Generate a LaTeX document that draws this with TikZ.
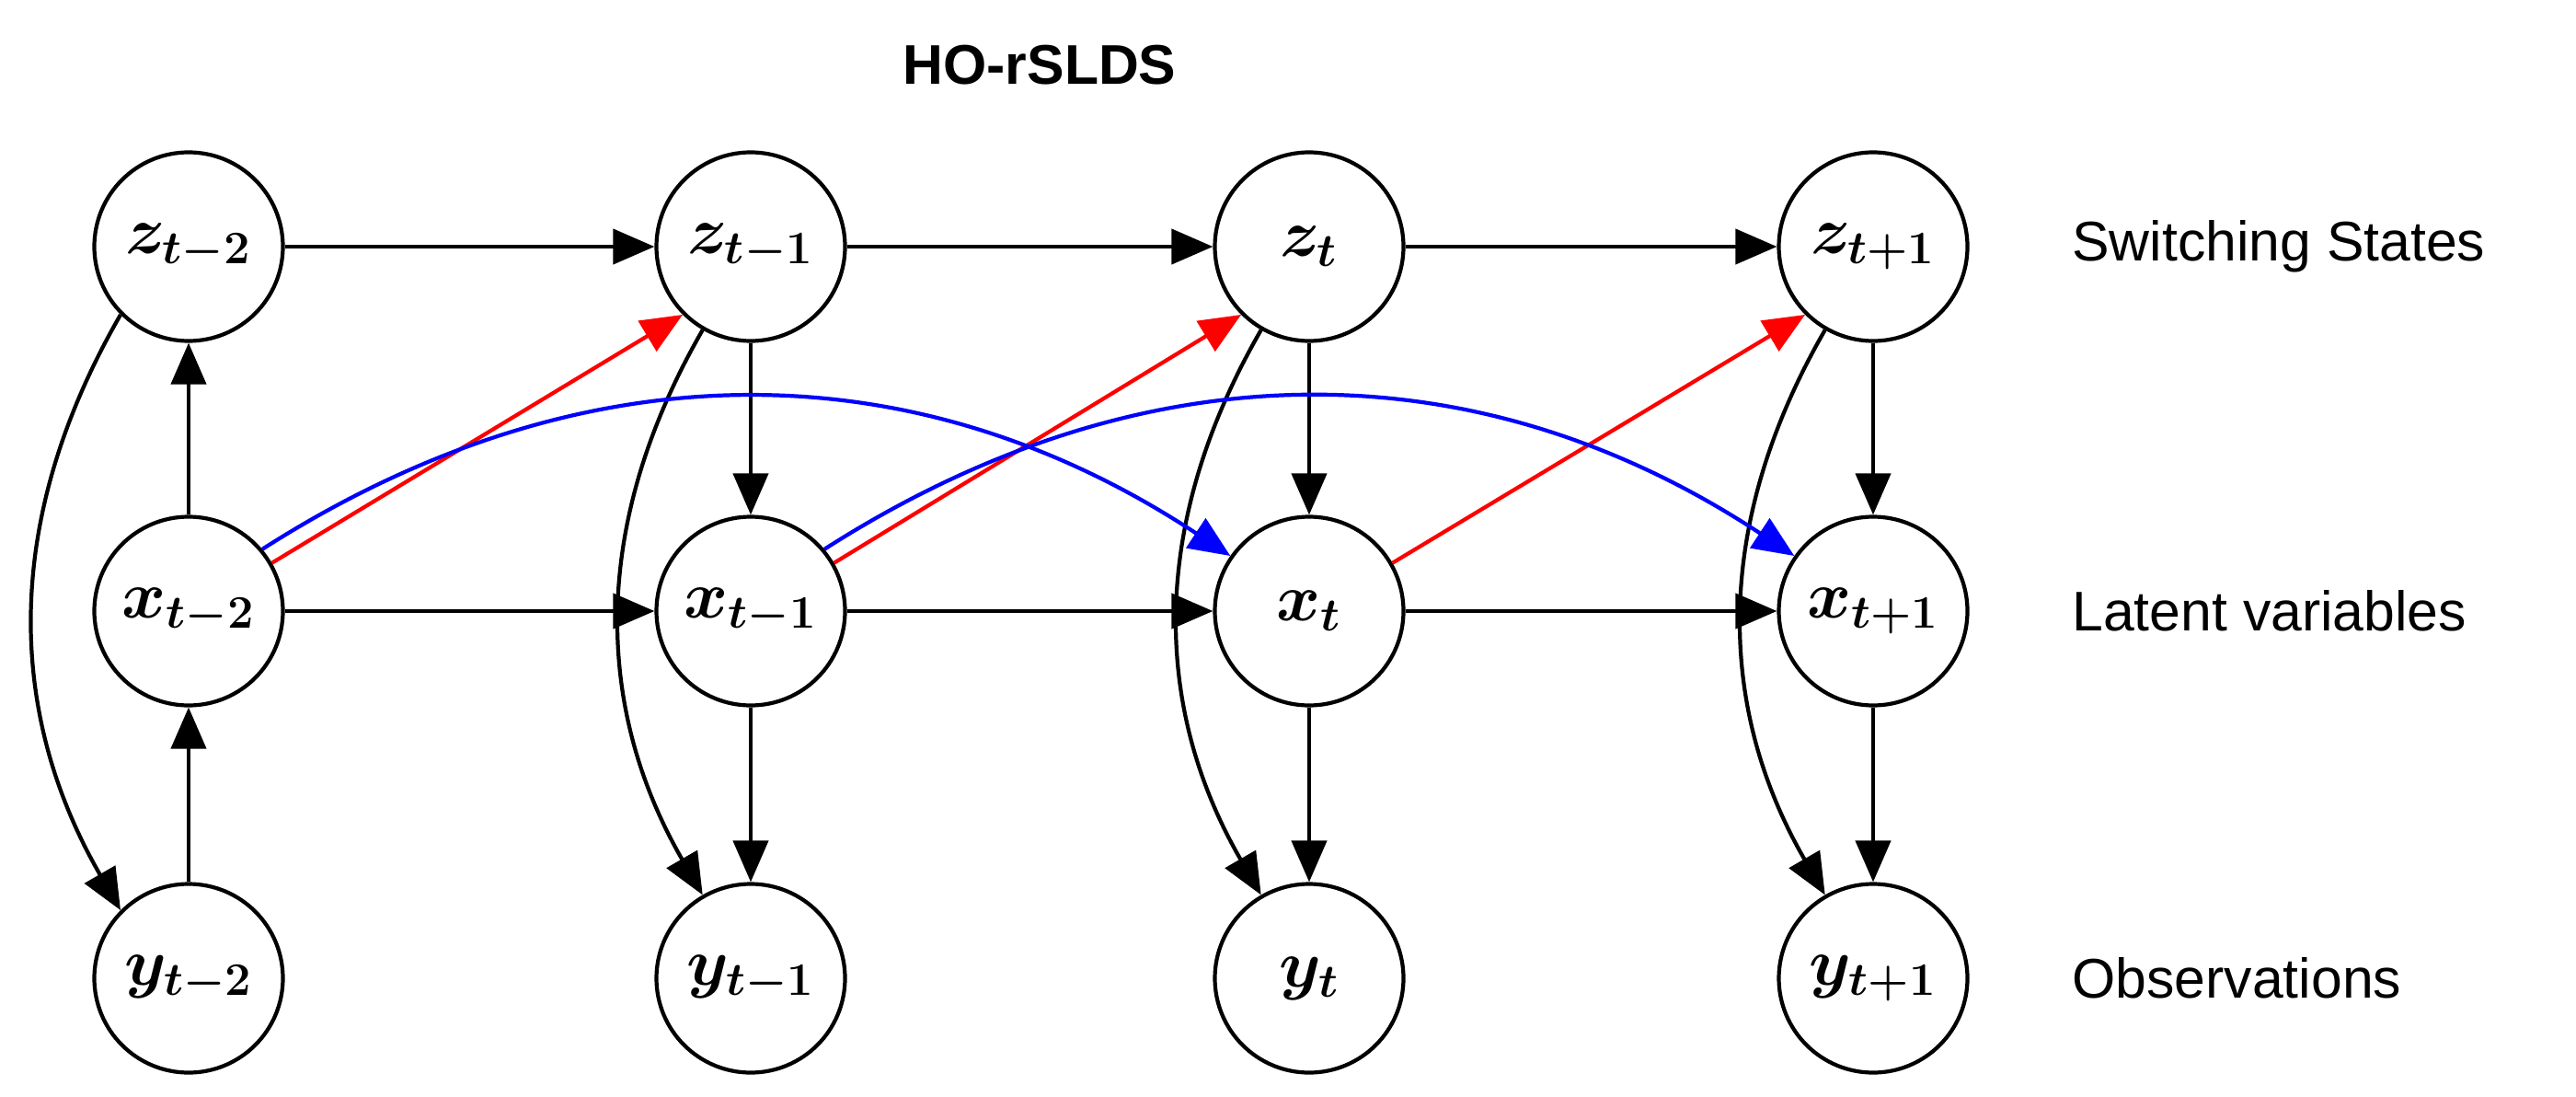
\documentclass[tikz,border=0pt]{standalone}
\usepackage{fontspec}
\setmainfont{Liberation Sans}
\usepackage{amsmath}
\usepackage{bm}
\usetikzlibrary{arrows.meta,positioning}

\tikzset{
    var/.style={draw, circle, very thick, minimum size=2.05cm, inner sep=0pt, font=\huge},
    edge/.style={-{Triangle[length=0.45cm,width=0.38cm]}, very thick},
    lbl/.style={anchor=west, font=\LARGE}
}

\begin{document}
\begin{tikzpicture}
    \useasboundingbox (0,0) rectangle (28,11.91);
    \node[font=\LARGE\bfseries] (title) at (11.3,11.2) {HO-rSLDS};

    % Nodes per time step
    \foreach \name/\sub/\x in {a/t-2/2.05, b/t-1/8.16, c/t/14.23, d/t+1/20.36} {
        \node[var] (z\name) at (\x,9.23) {$\bm{z_{\sub}}$};
        \node[var] (x\name) at (\x,5.27) {$\bm{x_{\sub}}$};
        \node[var] (y\name) at (\x,1.28) {$\bm{y_{\sub}}$};
    }

    % Row labels
    \node[lbl] (lz) at (22.4,9.23) {Switching States};
    \node[lbl] (lx) at (22.4,5.27) {Latent variables};
    \node[lbl] (ly) at (22.4,1.28) {Observations};

    % First time step
    \draw[edge] (ya) -- (xa);
    \draw[edge] (xa) -- (za);
    \draw[edge] (za.225) to[bend right=30] (ya.135);

    % Other time steps
    \foreach \n in {b,c,d} {
        \draw[edge] (z\n) -- (x\n);
        \draw[edge] (x\n) -- (y\n);
        \draw[edge] (z\n.240) to[bend right=30] (y\n.120);
    }

    % Transitions
    \foreach \p/\n in {a/b, b/c, c/d} {
        \draw[edge] (z\p) -- (z\n);
        \draw[edge] (x\p) -- (x\n);
        \draw[edge, red] (x\p.30) -- (z\n.225);
    }

    % Higher order links
    \draw[edge, blue] (xa.40) to[bend left=33] (xc.145);
    \draw[edge, blue] (xb.40) to[bend left=33] (xd.145);
\end{tikzpicture}
\end{document}
